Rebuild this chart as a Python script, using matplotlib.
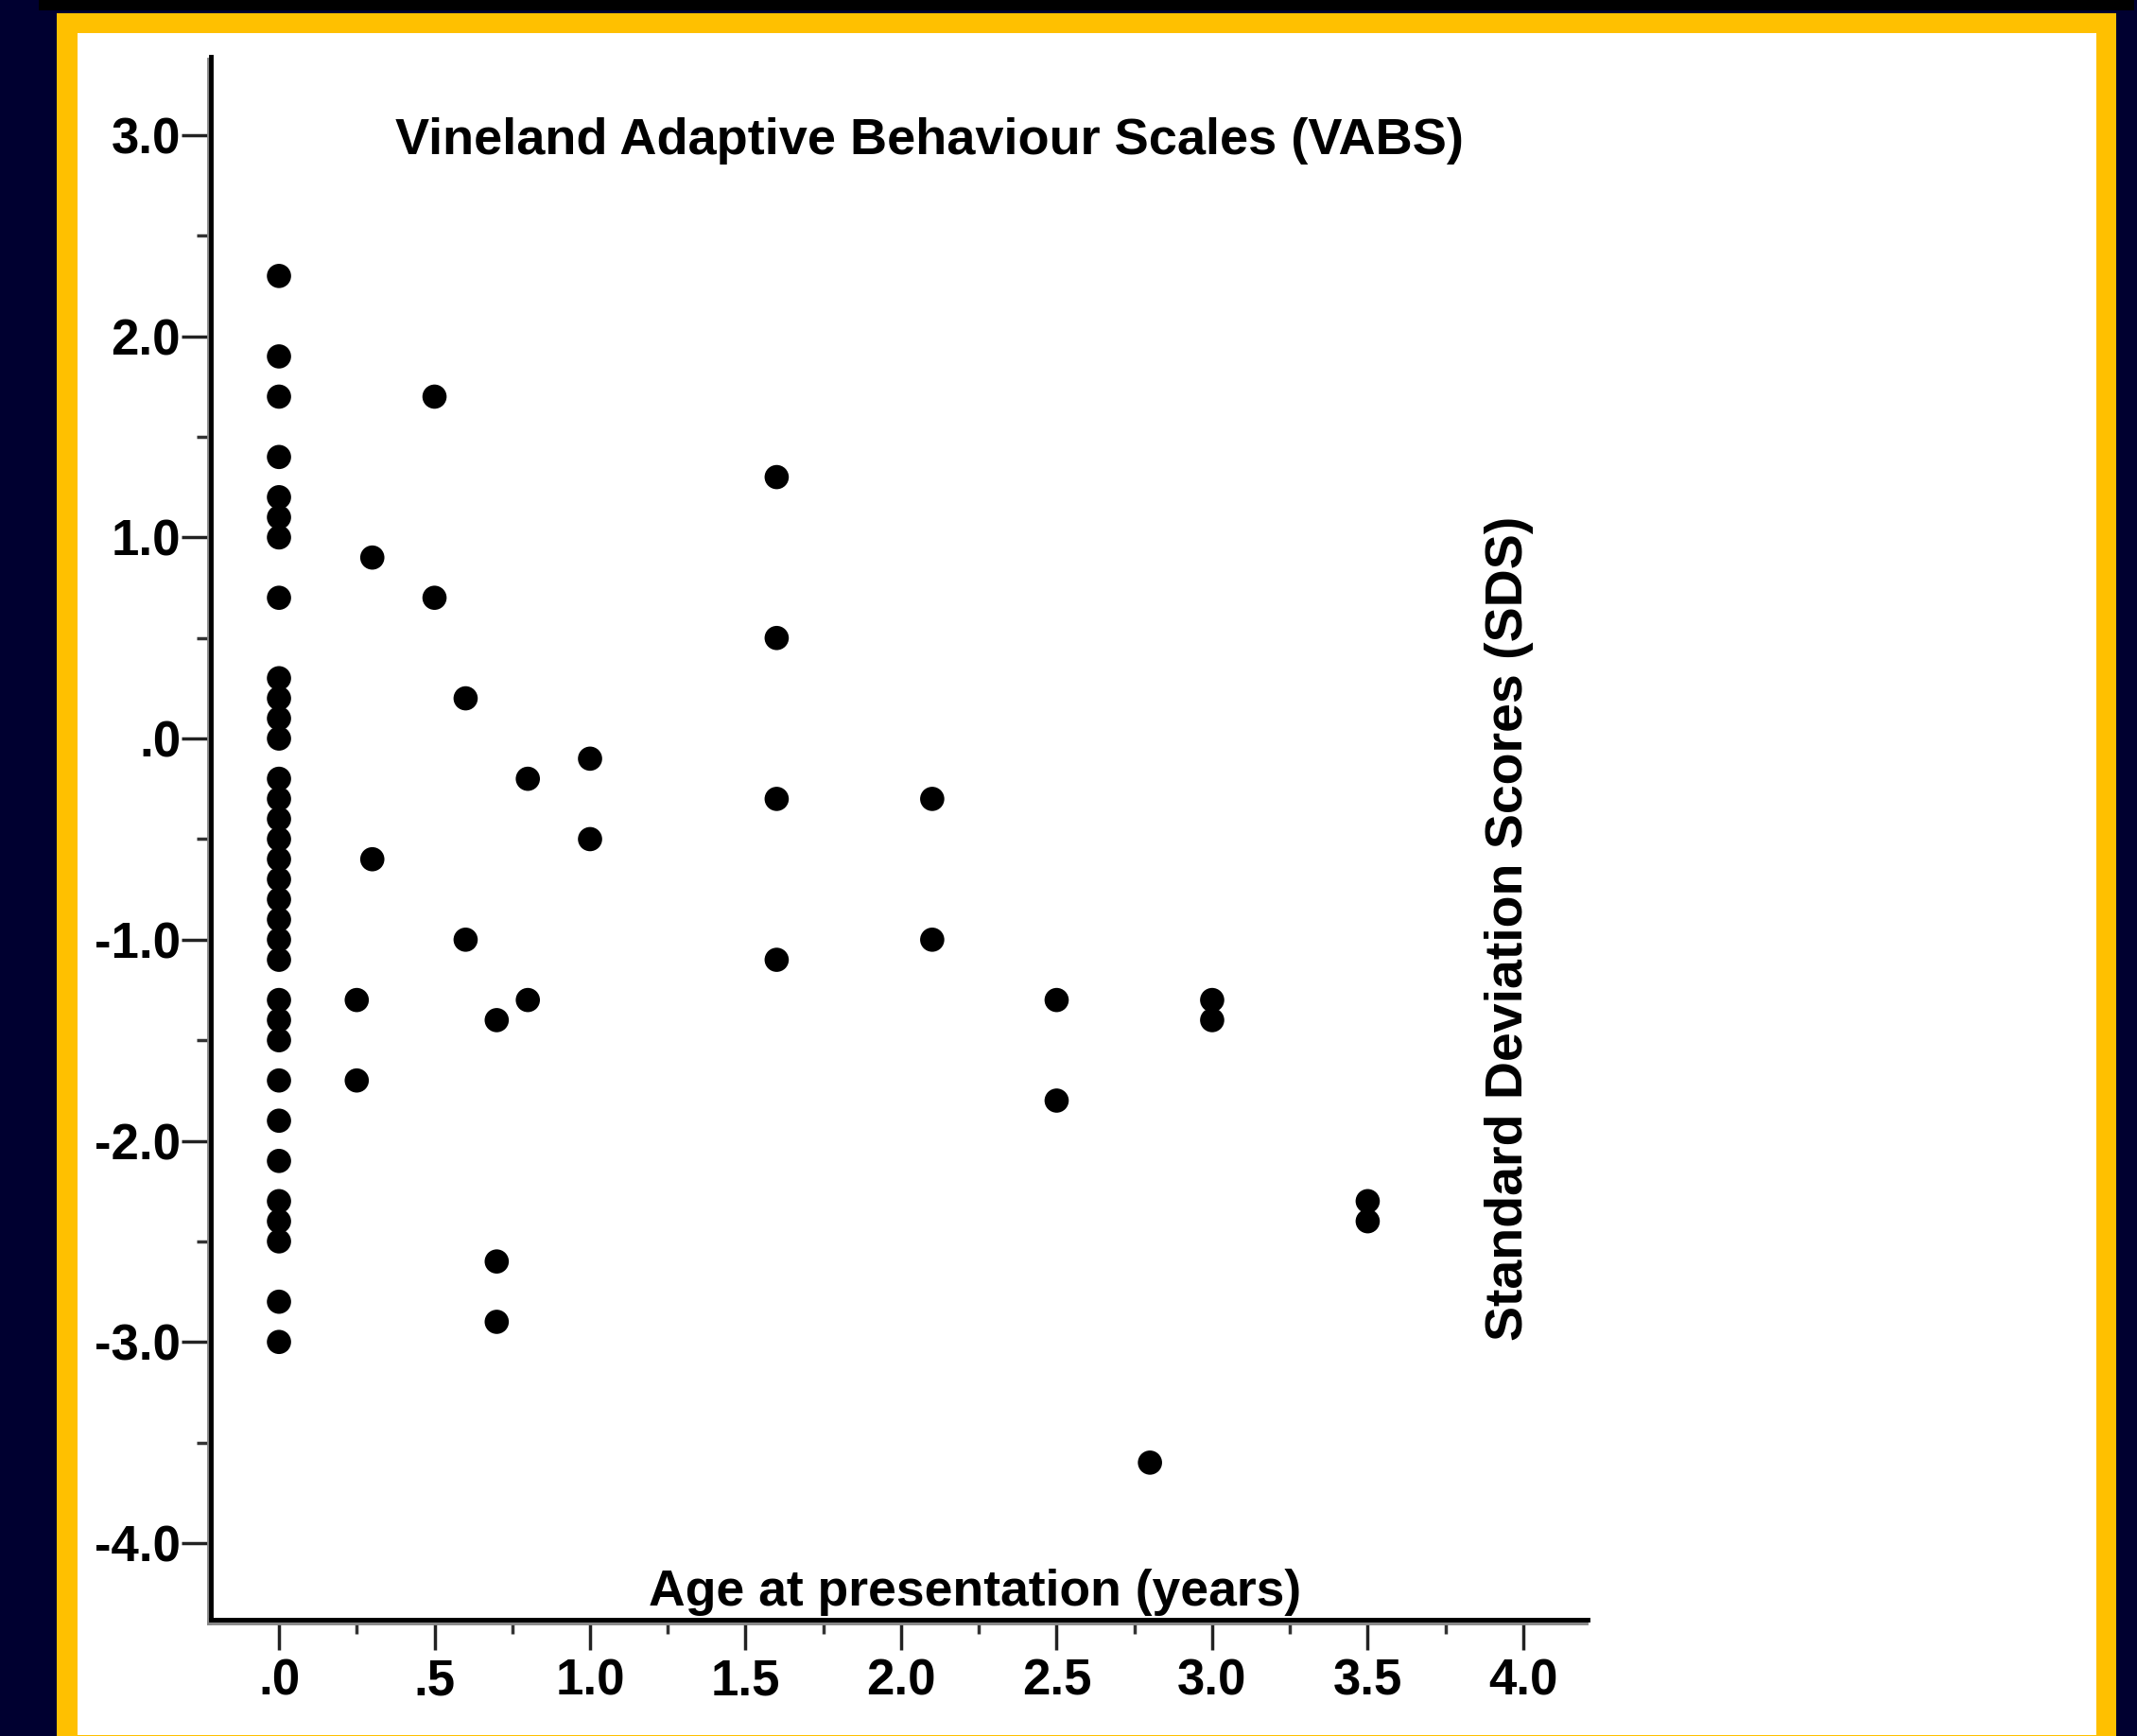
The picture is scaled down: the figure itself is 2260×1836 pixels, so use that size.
import matplotlib
matplotlib.use("Agg")
import matplotlib.pyplot as plt
import matplotlib.patheffects as pe
from matplotlib.patches import Rectangle
from matplotlib.ticker import FixedLocator, MultipleLocator

# values
sds_at_zero = [2.3, 1.9, 1.7, 1.4, 1.2, 1.1, 1.0, 0.7, 0.3, 0.2, 0.1, 0.0,
               -0.2, -0.3, -0.4, -0.5, -0.6, -0.7, -0.8, -0.9, -1.0, -1.1,
               -1.3, -1.4, -1.5, -1.7, -1.9, -2.1, -2.3, -2.4, -2.5, -2.8, -3.0]
age_other = [0.25, 0.25, 0.3, 0.3, 0.5, 0.5, 0.6, 0.6, 0.7, 0.7, 0.7, 0.8, 0.8,
             1.0, 1.0, 1.6, 1.6, 1.6, 1.6, 2.1, 2.1, 2.5, 2.5, 2.8, 3.0, 3.0,
             3.5, 3.5]
sds_other = [-1.3, -1.7, 0.9, -0.6, 1.7, 0.7, 0.2, -1.0, -1.4, -2.6, -2.9, -0.2, -1.3,
             -0.1, -0.5, 1.3, 0.5, -0.3, -1.1, -0.3, -1.0, -1.3, -1.8, -3.6, -1.3, -1.4,
             -2.3, -2.4]

age = [0.0] * len(sds_at_zero) + age_other
sds = sds_at_zero + sds_other

x_ticks = [0.0, 0.5, 1.0, 1.5, 2.0, 2.5, 3.0, 3.5, 4.0]
x_tick_labels = ['.0', '.5', '1.0', '1.5', '2.0', '2.5', '3.0', '3.5', '4.0']
y_ticks = [3.0, 2.0, 1.0, 0.0, -1.0, -2.0, -3.0, -4.0]
y_tick_labels = ['3.0', '2.0', '1.0', '.0', '-1.0', '-2.0', '-3.0', '-4.0']

title = 'Vineland Adaptive Behaviour Scales (VABS)'
xlabel = 'Age at presentation (years)'
ylabel = 'Standard Deviation Scores (SDS)'

W, H = 2260, 1836
fig = plt.figure(figsize=(W / 100, H / 100), dpi=100, facecolor='#000030')


def frame_rect(x0, y0, x1, y1, color, z):
    # pixel box measured from the top-left corner
    r = Rectangle((x0 / W, 1 - y1 / H), (x1 - x0) / W, (y1 - y0) / H,
                  transform=fig.transFigure, facecolor=color, edgecolor='none', zorder=z)
    fig.add_artist(r)


frame_rect(41, 0, 2257, 11, 'black', -3)
frame_rect(60, 14, 2238, 1836, '#FFC000', -2)
frame_rect(82, 35, 2217, 1835, 'white', -1)

ax = fig.add_axes([223 / W, 1 - 1713 / H, (1679 - 223) / W, (1713 - 60) / H])
ax.set_facecolor('none')

ax.scatter(age, sds, s=340, color='black', edgecolors='none', zorder=3, clip_on=False)

ax.set_xlim(-0.219, 4.207)
ax.set_ylim(-4.381, 3.39)

ax.xaxis.set_major_locator(FixedLocator(x_ticks))
ax.set_xticklabels(x_tick_labels)
ax.xaxis.set_minor_locator(MultipleLocator(0.25))
ax.yaxis.set_major_locator(FixedLocator(y_ticks))
ax.set_yticklabels(y_tick_labels)
ax.yaxis.set_minor_locator(MultipleLocator(0.5))

tick_font = dict(family='Liberation Sans', weight='bold', size=38)
for lab in ax.get_xticklabels() + ax.get_yticklabels():
    lab.set_fontproperties(matplotlib.font_manager.FontProperties(**tick_font))

ax.tick_params(axis='x', which='major', length=23, width=2.5, color='#222222', pad=6)
ax.tick_params(axis='x', which='minor', length=11, width=2.5, color='#333333')
ax.tick_params(axis='y', which='major', length=22, width=2.5, color='#222222', pad=1)
ax.tick_params(axis='y', which='minor', length=11, width=2.5, color='#333333')

for side in ['top', 'right']:
    ax.spines[side].set_visible(False)
for side in ['left', 'bottom']:
    sp = ax.spines[side]
    sp.set_linewidth(3.5)
    sp.set_color('black')
    sp.set_path_effects([pe.SimpleLineShadow(offset=(-1.2, -1.8), shadow_color='#888888', alpha=1),
                         pe.Normal()])

fig.text(983 / W, 1 - 163 / H, title, ha='center', va='baseline',
         family='Liberation Sans', weight='bold', size=39)
fig.text(1031 / W, 1 - 1698 / H, xlabel, ha='center', va='baseline',
         family='Liberation Sans', weight='bold', size=38.5)
fig.text(1596 / W, 1 - 982 / H, ylabel, ha='center', va='center', rotation=90,
         family='Liberation Sans', weight='bold', size=40)

fig.savefig('out.png', dpi=100, facecolor=fig.get_facecolor())
